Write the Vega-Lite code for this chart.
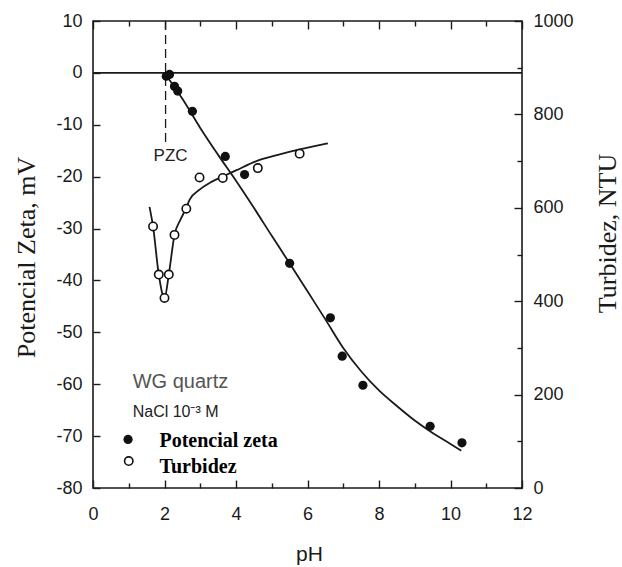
{
  "$schema": "https://vega.github.io/schema/vega-lite/v6.json",
  "width": 429,
  "height": 467,
  "autosize": "none",
  "padding": {"left": 93, "top": 21, "right": 100, "bottom": 79},
  "background": "white",
  "config": {
    "view": {"stroke": "#1a1a1a", "strokeWidth": 1.6},
    "axis": {
      "grid": false,
      "domain": false,
      "labelFont": "Liberation Sans",
      "labelFontSize": 18,
      "labelColor": "#1a1a1a",
      "tickColor": "#1a1a1a",
      "tickWidth": 1.4,
      "titleFont": "Liberation Serif",
      "titleFontWeight": "normal",
      "titleColor": "#1a1a1a"
    }
  },
  "datasets": {
    "zeta_pts": [
      {"pH": 2.05, "mV": -0.65}, {"pH": 2.14, "mV": -0.3}, {"pH": 2.28, "mV": -2.6},
      {"pH": 2.37, "mV": -3.5}, {"pH": 2.78, "mV": -7.4}, {"pH": 3.7, "mV": -16.1},
      {"pH": 4.24, "mV": -19.6}, {"pH": 5.5, "mV": -36.7}, {"pH": 6.64, "mV": -47.2},
      {"pH": 6.97, "mV": -54.6}, {"pH": 7.55, "mV": -60.2}, {"pH": 9.43, "mV": -68.1},
      {"pH": 10.32, "mV": -71.3}
    ],
    "zeta_fit": [
      {"pH": 2.0, "mV": 0}, {"pH": 2.5, "mV": -5}, {"pH": 3.0, "mV": -10.6},
      {"pH": 3.5, "mV": -15.8}, {"pH": 4.0, "mV": -20.8}, {"pH": 4.5, "mV": -26},
      {"pH": 5.0, "mV": -31.4}, {"pH": 5.5, "mV": -36.7}, {"pH": 6.0, "mV": -42.1},
      {"pH": 6.5, "mV": -47.5}, {"pH": 7.0, "mV": -53}, {"pH": 7.5, "mV": -57.5},
      {"pH": 8.0, "mV": -61.2}, {"pH": 8.5, "mV": -64.2}, {"pH": 9.0, "mV": -67},
      {"pH": 9.5, "mV": -69.4}, {"pH": 10.0, "mV": -71.5}, {"pH": 10.3, "mV": -72.8}
    ],
    "turb_pts": [
      {"pH": 1.68, "NTU": 560}, {"pH": 1.84, "NTU": 457}, {"pH": 2.0, "NTU": 407},
      {"pH": 2.12, "NTU": 457}, {"pH": 2.28, "NTU": 542}, {"pH": 2.61, "NTU": 598},
      {"pH": 2.98, "NTU": 665}, {"pH": 3.63, "NTU": 664}, {"pH": 4.61, "NTU": 685},
      {"pH": 5.78, "NTU": 716}
    ],
    "turb_fit": [
      {"pH": 1.58, "NTU": 602}, {"pH": 1.68, "NTU": 560}, {"pH": 1.84, "NTU": 457},
      {"pH": 2.0, "NTU": 407}, {"pH": 2.12, "NTU": 457}, {"pH": 2.28, "NTU": 542},
      {"pH": 2.45, "NTU": 575}, {"pH": 2.61, "NTU": 600}, {"pH": 2.7, "NTU": 617},
      {"pH": 3.0, "NTU": 640}, {"pH": 3.3, "NTU": 655}, {"pH": 3.63, "NTU": 667},
      {"pH": 4.0, "NTU": 680}, {"pH": 4.57, "NTU": 700}, {"pH": 5.2, "NTU": 714},
      {"pH": 5.78, "NTU": 725}, {"pH": 6.2, "NTU": 732}, {"pH": 6.57, "NTU": 738}
    ]
  },
  "layer": [
    {
      "encoding": {
        "x": {
          "field": "pH", "type": "quantitative",
          "scale": {"domain": [0, 12], "nice": false, "zero": false},
          "axis": {
            "orient": "bottom",
            "values": [0, 1, 2, 3, 4, 5, 6, 7, 8, 9, 10, 11, 12],
            "tickSize": {"expr": "datum.value % 2 === 0 ? -8 : -5"},
            "labelExpr": "datum.value % 2 === 0 ? '' + datum.value : ''",
            "labelPadding": 25,
            "labelFlush": false,
            "title": "pH",
            "titleFont": "Liberation Sans",
            "titleFontSize": 21,
            "titleX": 216,
            "titleY": 72,
            "titleAlign": "center",
            "titleBaseline": "alphabetic"
          }
        },
        "y": {
          "field": "mV", "type": "quantitative",
          "scale": {"domain": [-80, 10], "nice": false, "zero": false},
          "axis": {
            "orient": "left",
            "values": [-80, -70, -60, -50, -40, -30, -20, -10, 0, 10],
            "tickSize": -7,
            "labelExpr": "'' + datum.value",
            "labelPadding": 18,
            "labelFlush": false,
            "title": "Potencial Zeta, mV",
            "titleFontSize": 26,
            "titleAngle": 270,
            "titleX": -59,
            "titleY": 236,
            "titleAlign": "center",
            "titleBaseline": "alphabetic"
          }
        }
      },
      "layer": [
        {
          "data": {"values": [{"pH": 0, "pH2": 12, "mV": 0}]},
          "mark": {"type": "rule", "stroke": "#1a1a1a", "strokeWidth": 1.6},
          "encoding": {"x2": {"field": "pH2"}}
        },
        {
          "data": {"values": [{"pH": 2.03, "mV": 10, "mV2": -13.5}]},
          "mark": {"type": "rule", "stroke": "#1a1a1a", "strokeWidth": 1.3, "strokeDash": [9, 5]},
          "encoding": {"y2": {"field": "mV2"}}
        },
        {
          "data": {"name": "zeta_fit"},
          "mark": {"type": "line", "stroke": "#1a1a1a", "strokeWidth": 1.8, "interpolate": "monotone"}
        },
        {
          "data": {"name": "zeta_pts"},
          "mark": {"type": "point", "shape": "circle", "filled": true, "size": 85, "fill": "#111", "opacity": 1, "strokeWidth": 0}
        },
        {
          "data": {"values": [{"pH": 0.98, "mV": -70.65}]},
          "mark": {"type": "point", "shape": "circle", "filled": true, "size": 85, "fill": "#111", "opacity": 1, "strokeWidth": 0}
        },
        {
          "data": {"values": [{"pH": 1.0, "mV": -74.8}]},
          "mark": {"type": "point", "shape": "circle", "filled": true, "size": 70, "fill": "white", "stroke": "#111", "strokeWidth": 1.6, "opacity": 1}
        },
        {
          "data": {"values": [{"pH": 2.17, "mV": -16.1, "t": "PZC"}]},
          "mark": {"type": "text", "font": "Liberation Sans", "fontSize": 17, "color": "#222", "align": "center", "baseline": "middle"},
          "encoding": {"text": {"field": "t"}}
        },
        {
          "data": {"values": [{"pH": 1.11, "mV": -59.6, "t": "WG quartz"}]},
          "mark": {"type": "text", "font": "Liberation Sans", "fontSize": 20, "color": "#555", "align": "left", "baseline": "middle"},
          "encoding": {"text": {"field": "t"}}
        },
        {
          "data": {"values": [{"pH": 1.11, "mV": -65.3, "t": "NaCl 10⁻³ M"}]},
          "mark": {"type": "text", "font": "Liberation Sans", "fontSize": 16, "color": "#222", "align": "left", "baseline": "middle"},
          "encoding": {"text": {"field": "t"}}
        },
        {
          "data": {"values": [{"pH": 1.86, "mV": -71.0, "t": "Potencial zeta"}, {"pH": 1.86, "mV": -76.0, "t": "Turbidez"}]},
          "mark": {"type": "text", "font": "Liberation Serif", "fontWeight": "bold", "fontSize": 20, "color": "#000", "align": "left", "baseline": "middle"},
          "encoding": {"text": {"field": "t"}}
        }
      ]
    },
    {
      "encoding": {
        "x": {
          "field": "pH", "type": "quantitative",
          "scale": {"domain": [0, 12], "nice": false, "zero": false},
          "axis": {
            "orient": "top",
            "values": [0, 1, 2, 3, 4, 5, 6, 7, 8, 9, 10, 11, 12],
            "tickSize": {"expr": "datum.value % 2 === 0 ? -8 : -5"},
            "labels": false,
            "title": null
          }
        },
        "y": {
          "field": "NTU", "type": "quantitative",
          "scale": {"domain": [0, 1000], "nice": false, "zero": false},
          "axis": {
            "orient": "right",
            "values": [0, 100, 200, 300, 400, 500, 600, 700, 800, 900, 1000],
            "tickSize": {"expr": "datum.value % 200 === 0 ? -8 : -5"},
            "labelExpr": "datum.value % 200 === 0 ? '' + datum.value : ''",
            "labelPadding": 19,
            "labelFlush": false,
            "title": "Turbidez, NTU",
            "titleFontSize": 26,
            "titleAngle": 270,
            "titleX": 93,
            "titleY": 212,
            "titleAlign": "center",
            "titleBaseline": "alphabetic"
          }
        }
      },
      "layer": [
        {
          "data": {"name": "turb_fit"},
          "mark": {"type": "line", "stroke": "#1a1a1a", "strokeWidth": 1.8, "interpolate": "monotone"}
        },
        {
          "data": {"name": "turb_pts"},
          "mark": {"type": "point", "shape": "circle", "filled": true, "size": 70, "fill": "white", "stroke": "#111", "strokeWidth": 1.6, "opacity": 1}
        }
      ]
    }
  ],
  "resolve": {"scale": {"x": "independent", "y": "independent"}, "axis": {"x": "independent", "y": "independent"}}
}
